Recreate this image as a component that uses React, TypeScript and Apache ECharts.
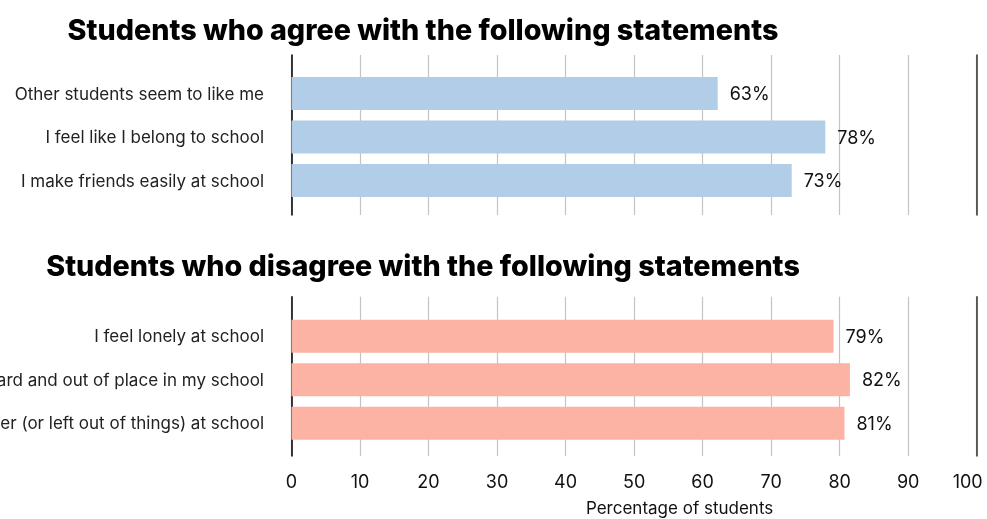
import React, { useEffect, useRef } from "react";
import * as echarts from "echarts";

const agreeCategories = [
  "Other students seem to like me",
  "I feel like I belong to school",
  "I make friends easily at school",
];
const agreeValues = [62.2, 77.9, 73.0];
const agreeLabels = ["63%", "78%", "73%"];

const disagreeCategories = [
  "I feel lonely at school",
  "I feel awkward and out of place in my school",
  "I feel like an outsider (or left out of things) at school",
];
const disagreeValues = [79.1, 81.5, 80.7];
const disagreeLabels = ["79%", "82%", "81%"];

const titles = [
  "Students who agree with the following statements",
  "Students who disagree with the following statements",
];
const xAxisName = "Percentage of students";

const FONT = "Inter, 'Noto Sans', sans-serif";
const LEFT = 291.5;
const RIGHT = 987 - 976.7;

export default function App() {
  const ref = useRef<HTMLDivElement>(null);
  useEffect(() => {
    if (!ref.current) return;
    const chart = echarts.init(ref.current, null, { renderer: "svg" });
    const hiddenX = (gridIndex: number) => ({
      type: "value" as const,
      gridIndex,
      min: 0,
      max: 100,
      interval: 10,
      show: false,
    });
    const lineX = (gridIndex: number, labels: boolean) => ({
      type: "value" as const,
      gridIndex,
      min: 0,
      max: 100,
      interval: 10,
      axisLine: { show: false },
      axisTick: { show: false },
      splitLine: { show: true, lineStyle: { color: "#c4c4c4", width: 1.2 } },
      axisLabel: {
        show: labels,
        fontFamily: FONT,
        fontSize: 18,
        color: "#111",
        margin: 16,
        formatter: (v: number) => (v === 100 ? "{m|100}" : String(v)),
        rich: { m: { fontFamily: FONT, fontSize: 18, color: "#111", padding: [0, 18, 0, 0] } },
      },
      name: labels ? xAxisName : undefined,
      nameLocation: "middle" as const,
      nameGap: 43,
      nameTextStyle: { fontFamily: FONT, fontSize: 17, color: "#111", padding: [0, 0, 0, 91] },
    });
    const edgeY = (gridIndex: number, position: "left" | "right", color: string) => ({
      type: "value" as const,
      gridIndex,
      position,
      min: 0,
      max: 1,
      axisLine: { show: true, onZero: false, lineStyle: { color, width: 1.5 } },
      axisTick: { show: false },
      axisLabel: { show: false },
      splitLine: { show: false },
    });
    const catY = (gridIndex: number, data: string[]) => ({
      type: "category" as const,
      gridIndex,
      data,
      inverse: true,
      axisLine: { show: false },
      axisTick: { show: false },
      axisLabel: { fontFamily: FONT, fontSize: 17, color: "#222", margin: 27.5 },
    });
    const barSeries = (
      axisIndex: number,
      values: number[],
      labels: string[],
      color: string
    ) => ({
      type: "bar" as const,
      xAxisIndex: axisIndex,
      yAxisIndex: axisIndex,
      data: values,
      barWidth: 33,
      itemStyle: { color },
      label: {
        show: true,
        position: "right" as const,
        distance: 12,
        fontFamily: FONT,
        fontSize: 18,
        color: "#111",
        formatter: (p: any) => labels[p.dataIndex],
      },
    });
    const grid = (top: number, height: number) => ({
      left: LEFT,
      right: RIGHT,
      top,
      height,
      outerBoundsMode: "none" as const,
      containLabel: false,
    });
    chart.setOption({
      animation: false,
      grid: [grid(55, 160), grid(71.75, 130.5), grid(296.7, 159.3), grid(314.5, 130.5)],
      xAxis: [lineX(0, false), hiddenX(1), lineX(2, true), hiddenX(3)],
      yAxis: [
        edgeY(0, "left", "#000"),
        catY(1, agreeCategories),
        edgeY(2, "left", "#000"),
        catY(3, disagreeCategories),
        edgeY(0, "right", "#333"),
        edgeY(2, "right", "#333"),
      ],
      series: [
        barSeries(1, agreeValues, agreeLabels, "#b1cde8"),
        barSeries(3, disagreeValues, disagreeLabels, "#fdb3a4"),
      ],
      graphic: [
        {
          type: "text",
          x: 423,
          y: 29,
          style: {
            text: titles[0],
            textAlign: "center",
            textVerticalAlign: "middle",
            font: `800 28.7px ${FONT}`,
            fill: "#000",
          },
        },
        {
          type: "text",
          x: 423,
          y: 265,
          style: {
            text: titles[1],
            textAlign: "center",
            textVerticalAlign: "middle",
            font: `800 28.7px ${FONT}`,
            fill: "#000",
          },
        },
      ],
    });
    return () => chart.dispose();
  }, []);
  return (
    <div
      ref={ref}
      style={{ position: "fixed", left: 0, top: 0, width: 987, height: 519 }}
    />
  );
}
